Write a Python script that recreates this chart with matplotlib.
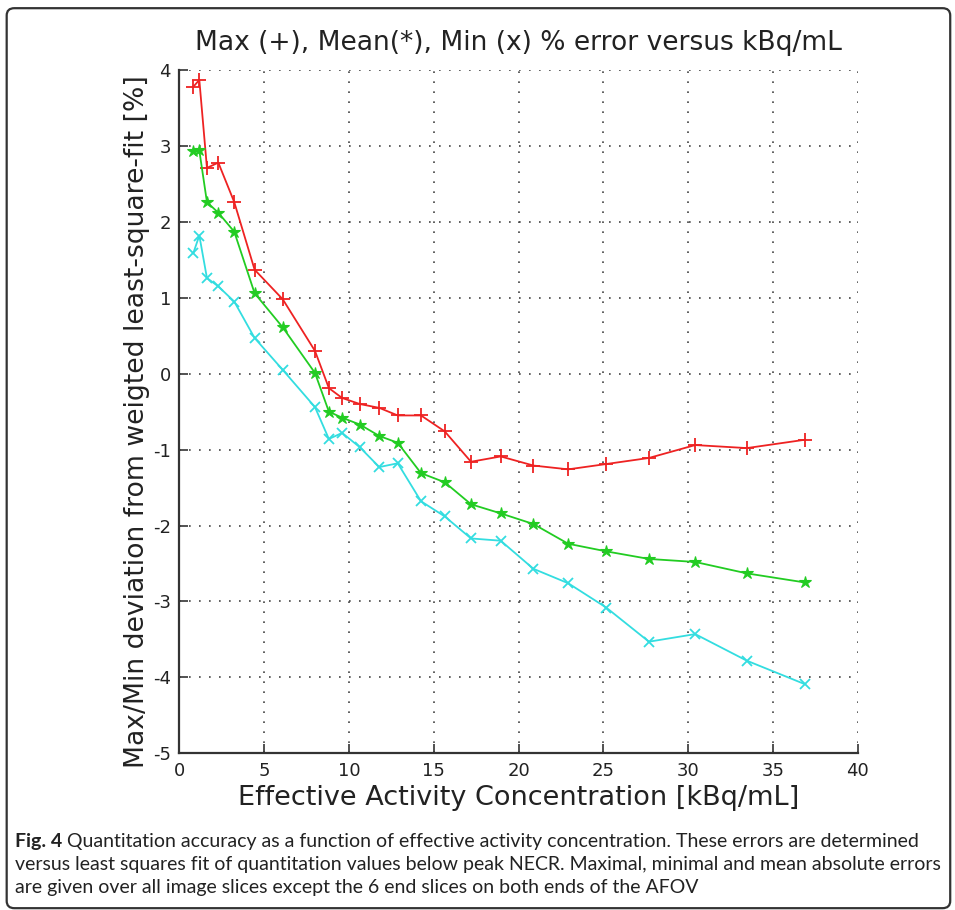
"""Max/Mean/Min % error versus effective activity concentration."""

import matplotlib
matplotlib.use('Agg')
import matplotlib.pyplot as plt
from matplotlib.patches import FancyBboxPatch

# activity concentration [kBq/mL], shared by the three curves
conc = [0.83, 1.18, 1.63, 2.30, 3.24, 4.44, 6.10, 8.0, 8.82, 9.6, 10.65,
        11.79, 12.88, 14.25, 15.65, 17.2, 18.95, 20.88, 22.93, 25.17,
        27.69, 30.42, 33.46, 36.89]

err_max = [3.78, 3.87, 2.71, 2.78, 2.26, 1.37, 0.98, 0.30, -0.19, -0.32,
           -0.40, -0.45, -0.55, -0.55, -0.76, -1.16, -1.09, -1.21, -1.26,
           -1.19, -1.11, -0.94, -0.98, -0.87]
err_mean = [2.93, 2.94, 2.26, 2.12, 1.87, 1.06, 0.61, 0.01, -0.50, -0.58,
            -0.67, -0.82, -0.91, -1.31, -1.43, -1.72, -1.84, -1.98, -2.24,
            -2.34, -2.44, -2.48, -2.63, -2.75]
err_min = [1.59, 1.82, 1.26, 1.15, 0.95, 0.47, 0.05, -0.44, -0.86, -0.78,
           -0.97, -1.23, -1.18, -1.68, -1.88, -2.17, -2.20, -2.57, -2.76,
           -3.08, -3.53, -3.43, -3.78, -4.09]

xticks = [0, 5, 10, 15, 20, 25, 30, 35, 40]
yticks = [-5, -4, -3, -2, -1, 0, 1, 2, 3, 4]

title = 'Max (+), Mean(*), Min (x) % error versus kBq/mL'
xlabel = 'Effective Activity Concentration [kBq/mL]'
ylabel = 'Max/Min deviation from weigted least-square-fit [%]'
caption_bold = 'Fig. 4'
caption_lines = [
    ' Quantitation accuracy as a function of effective activity '
    'concentration. These errors are determined',
    'versus least squares fit of quantitation values below peak NECR. '
    'Maximal, minimal and mean absolute errors',
    'are given over all image slices except the 6 end slices on both '
    'ends of the AFOV',
]

plt.rcParams['font.family'] = ['DejaVu Sans']
plt.rcParams['axes.unicode_minus'] = False

W, H = 955, 910
fig = plt.figure(figsize=(W / 100, H / 100), dpi=100)
fig.patch.set_facecolor('white')


def fit_width(txt, target_px):
    """Rescale a text's font size so its rendered width is target_px."""
    fig.canvas.draw()
    w = txt.get_window_extent().width
    txt.set_fontsize(txt.get_fontsize() * target_px / w)


# rounded frame around figure + caption
frame = FancyBboxPatch((0.007, 0.002), 0.988, 0.989,
                       boxstyle='round,pad=0,rounding_size=0.008',
                       transform=fig.transFigure, fill=False,
                       ec='#333333', lw=1.6)
fig.patches.append(frame)

ax = fig.add_axes([179.3 / W, 1 - 753.3 / H, 678.4 / W, 683.3 / H])

ax.plot(conc, err_max, '-+', c='#ee2222', lw=1.3, ms=9.5, mew=1.3)
ax.plot(conc, err_mean, '-*', c='#22cc22', lw=1.3, ms=9, mew=0.8)
ax.plot(conc, err_min, '-x', c='#33dde0', lw=1.3, ms=7.5, mew=1.3)

ax.set_xlim(0, 40)
ax.set_ylim(-5, 4)
ax.set_xticks(xticks)
ax.set_yticks(yticks)
ax.tick_params(direction='in', length=6.5, width=1.2, colors='#333333',
               labelsize=13, labelcolor='#222222', pad=6)

for side in ('top', 'right'):
    ax.spines[side].set_visible(False)
for side in ('left', 'bottom'):
    ax.spines[side].set_color('#333333')
    ax.spines[side].set_linewidth(1.6)

ax.grid(True, ls=(0, (1, 5)), c='#444444', lw=1.2)
ax.set_axisbelow(True)

t = fig.text(518.5 / W, 1 - 50 / H, title, ha='center', va='baseline',
             fontsize=18, color='#222222')
fit_width(t, 650)

xl = ax.set_xlabel(xlabel, fontsize=18, color='#222222')
ax.xaxis.set_label_coords(0.5, -0.046)
fit_width(xl, 562)

yl = ax.set_ylabel(ylabel, fontsize=18, color='#222222')
ax.yaxis.set_label_coords(-0.043, 0.485)
fig.canvas.draw()
yl.set_fontsize(yl.get_fontsize() * 694 / yl.get_window_extent().height)

# caption with bold lead, sized so the longest line fits the frame
cap_kw = dict(fontsize=14, color='#222222', family=['Lato', 'DejaVu Sans'],
              va='baseline')
x0 = 15 / W
ys = [1 - 846.7 / H, 1 - 870.3 / H, 1 - 893.3 / H]
probe = fig.text(x0, ys[1], caption_lines[1], **cap_kw)
fit_width(probe, 928)
cap_kw['fontsize'] = probe.get_fontsize()
probe.remove()

tb = fig.text(x0, ys[0], caption_bold, weight='bold', **cap_kw)
fig.canvas.draw()
bb = tb.get_window_extent().transformed(fig.transFigure.inverted())
fig.text(bb.x1, ys[0], caption_lines[0], **cap_kw)
for y, line in zip(ys[1:], caption_lines[1:]):
    fig.text(x0, y, line, **cap_kw)

fig.savefig('out.png', dpi=100, facecolor='white')
